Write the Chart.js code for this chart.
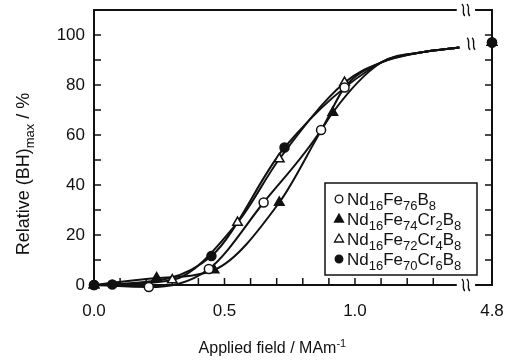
<!DOCTYPE html>
<html>
<head>
<meta charset="utf-8">
<title>Relative (BH)max vs applied field</title>
<script src="https://cdn.jsdelivr.net/npm/chart.js@4/dist/chart.umd.min.js"></script>
<style>
  html, body { margin: 0; padding: 0; background: #fff; }
  #wrap { width: 508px; height: 361px; }
</style>
</head>
<body>
<div id="wrap"><canvas id="chart"></canvas></div>
<script>
// applied field (MA/m) and relative (BH)max (%) for each alloy
const fieldCr0 = [0, 0.21, 0.44, 0.65, 0.87, 0.96, 4.8];
const bhCr0    = [0, -0.8, 6.4, 33, 62, 79, 97];
const fieldCr2 = [0, 0.24, 0.46, 0.71, 0.915, 4.8];
const bhCr2    = [0, 2.8, 6, 33, 69, 97];
const fieldCr4 = [0, 0.30, 0.55, 0.71, 0.96, 4.8];
const bhCr4    = [0, 2, 25, 50.4, 81, 97];
const fieldCr6 = [0, 0.07, 0.45, 0.73, 4.8];
const bhCr6    = [0, 0.2, 11.6, 55, 97];

// above ~1 MA/m the four curves run together up to the axis break
const tailField = [1.1, 1.25, 1.4];
const tailBH    = [89, 93, 95];

const seriesNames = ['Nd16Fe76B8', 'Nd16Fe74Cr2B8', 'Nd16Fe72Cr4B8', 'Nd16Fe70Cr6B8'];

const xTicks = [0, 0.1, 0.2, 0.3, 0.4, 0.5, 0.6, 0.7, 0.8, 0.9, 1.0, 1.1, 1.2, 1.3];
const xLabelled = [0, 0.5, 1.0];

const X_GAP_FROM = 1.39;   // field axis is broken between these two
const X_GAP_TO = 1.46;
const X_FAR = 4.8;         // last field, sits on the right-hand axis
const X_AXIS_END = 1.525;  // axis position used for X_FAR
const INK = '#111';
const TICK = 7;
const FONT = '"Liberation Sans", Arial, sans-serif';

function toAxis(h) {
  return h > X_GAP_TO ? X_AXIS_END - (X_FAR - h) : h;
}

const series = [
  { field: fieldCr0, bh: bhCr0, style: 'circle',   filled: false, order: 1 },
  { field: fieldCr2, bh: bhCr2, style: 'triangle', filled: true,  order: 3 },
  { field: fieldCr4, bh: bhCr4, style: 'triangle', filled: false, order: 2 },
  { field: fieldCr6, bh: bhCr6, style: 'circle',   filled: true,  order: 0 },
];

const datasets = [];
series.forEach((s, i) => {
  const near = s.field.map((h, j) => ({ x: h, y: s.bh[j] })).filter(p => p.x < X_GAP_FROM);
  const curve = near.concat(tailField.map((h, j) => ({ x: h, y: tailBH[j] })));
  datasets.push({
    label: seriesNames[i] + ' curve',
    data: curve,
    showLine: true,
    borderColor: INK,
    borderWidth: 2,
    pointRadius: 0,
    cubicInterpolationMode: 'monotone',
    clip: false,
    order: 4 + i,
  });
  datasets.push({
    label: seriesNames[i],
    data: s.field.map((h, j) => ({ x: toAxis(h), y: s.bh[j] })),
    showLine: false,
    pointStyle: s.style,
    pointRadius: s.style === 'circle' ? 4.5 : 5.5,
    pointBorderWidth: 1.5,
    pointBorderColor: INK,
    pointBackgroundColor: s.filled ? INK : '#fff',
    clip: false,
    order: s.order,
  });
});

function drawMarker(ctx, style, filled, x, y, r) {
  ctx.beginPath();
  if (style === 'circle') {
    ctx.arc(x, y, r, 0, Math.PI * 2);
  } else {
    ctx.moveTo(x, y - r);
    ctx.lineTo(x + r * 0.9, y + r * 0.6);
    ctx.lineTo(x - r * 0.9, y + r * 0.6);
    ctx.closePath();
  }
  ctx.fillStyle = filled ? INK : '#fff';
  ctx.fill();
  ctx.lineWidth = 1.3;
  ctx.strokeStyle = INK;
  ctx.stroke();
}

// text pieces: {t, k} where k is '', 'sub' or 'sup'
function richWidth(ctx, parts, size, ratio = 0.7) {
  let w = 0;
  parts.forEach(p => {
    ctx.font = (p.k ? Math.round(size * ratio) : size) + 'px ' + FONT;
    w += ctx.measureText(p.t).width;
  });
  return w;
}

function drawRich(ctx, parts, x, y, size, ratio = 0.7) {
  ctx.textBaseline = 'alphabetic';
  ctx.textAlign = 'left';
  ctx.fillStyle = INK;
  parts.forEach(p => {
    const s = p.k ? Math.round(size * ratio) : size;
    ctx.font = s + 'px ' + FONT;
    const dy = p.k === 'sub' ? size * 0.3 : p.k === 'sup' ? -size * 0.4 : 0;
    ctx.fillText(p.t, x, y + dy);
    x += ctx.measureText(p.t).width;
  });
}

function formulaParts(name) {
  return name.split(/(\d+)/).filter(t => t).map(t => ({ t, k: /^\d+$/.test(t) ? 'sub' : '' }));
}

function breakMark(ctx, cx, cy) {
  ctx.save();
  ctx.fillStyle = '#fff';
  ctx.fillRect(cx - 6, cy - 3, 12, 6);
  ctx.strokeStyle = INK;
  ctx.lineWidth = 1.3;
  [-2.5, 2.5].forEach(dx => {
    const x0 = cx + dx;
    ctx.beginPath();
    ctx.moveTo(x0 - 1.5, cy - 6);
    ctx.bezierCurveTo(x0 + 2.5, cy - 2.5, x0 - 2.5, cy + 2.5, x0 + 1.5, cy + 6);
    ctx.stroke();
  });
  ctx.restore();
}

const framePlugin = {
  id: 'frame',
  beforeDatasetsDraw(chart) {
    const { ctx, chartArea: a, scales: { x, y } } = chart;
    const gapL = x.getPixelForValue(X_GAP_FROM);
    const gapR = x.getPixelForValue(X_GAP_TO);
    ctx.save();
    ctx.strokeStyle = INK;
    ctx.lineWidth = 2;
    ctx.beginPath();
    ctx.moveTo(gapL, a.top);
    ctx.lineTo(a.left, a.top);
    ctx.lineTo(a.left, a.bottom);
    ctx.lineTo(gapL, a.bottom);
    ctx.moveTo(gapR, a.top);
    ctx.lineTo(a.right, a.top);
    ctx.lineTo(a.right, a.bottom);
    ctx.lineTo(gapR, a.bottom);
    ctx.stroke();

    // inward ticks on both vertical axes and along the field axis
    ctx.lineWidth = 1.5;
    ctx.beginPath();
    y.ticks.forEach(t => {
      if (t.value <= 0 || t.value > 100) return;
      const py = y.getPixelForValue(t.value);
      ctx.moveTo(a.left, py);
      ctx.lineTo(a.left + TICK, py);
      ctx.moveTo(a.right, py);
      ctx.lineTo(a.right - TICK, py);
    });
    x.ticks.forEach(t => {
      if (t.value <= 0 || t.value >= X_GAP_FROM) return;
      const px = x.getPixelForValue(t.value);
      ctx.moveTo(px, a.bottom);
      ctx.lineTo(px, a.bottom - TICK);
    });
    ctx.stroke();
    ctx.restore();

    const mid = (gapL + gapR) / 2;
    breakMark(ctx, mid, a.top);
    breakMark(ctx, mid, a.bottom);
  },
  afterDatasetsDraw(chart) {
    const { ctx, chartArea: a, scales: { x, y } } = chart;
    ctx.save();
    // the curves stop at the break before 4.8 MA/m
    breakMark(ctx, x.getPixelForValue(1.445), y.getPixelForValue(96.5));

    // legend
    const w = 152, h = 92;
    const bx = a.right - 15 - w, by = a.bottom - 10 - h;
    ctx.fillStyle = '#fff';
    ctx.fillRect(bx, by, w, h);
    ctx.strokeStyle = INK;
    ctx.lineWidth = 1.5;
    ctx.strokeRect(bx, by, w, h);
    series.forEach((s, i) => {
      const cy = by + 16 + i * 20;
      drawMarker(ctx, s.style, s.filled, bx + 14, cy, s.style === 'circle' ? 3.8 : 5);
      drawRich(ctx, formulaParts(seriesNames[i]), bx + 22, cy + 6, 17, 0.76);
    });

    // axis titles
    const xt = [{ t: 'Applied field / MAm', k: '' }, { t: '-1', k: 'sup' }];
    const xc = (a.left + x.getPixelForValue(X_GAP_FROM)) / 2;
    drawRich(ctx, xt, xc - richWidth(ctx, xt, 16) / 2 - 3, 353, 16);

    const yt = [{ t: 'Relative (BH)', k: '' }, { t: 'max', k: 'sub' }, { t: ' / %', k: '' }];
    ctx.translate(29, 174);
    ctx.rotate(-Math.PI / 2);
    drawRich(ctx, yt, -richWidth(ctx, yt, 18) / 2, 0, 18);
    ctx.restore();
  },
};

Chart.defaults.font.family = FONT;
Chart.defaults.font.size = 17;
Chart.defaults.color = INK;

new Chart(document.getElementById('chart'), {
  type: 'scatter',
  data: { datasets },
  plugins: [framePlugin],
  options: {
    responsive: true,
    maintainAspectRatio: false,
    animation: false,
    events: [],
    layout: { padding: { top: 10, right: 16, left: 0, bottom: 0 } },
    plugins: { legend: { display: false }, tooltip: { enabled: false } },
    scales: {
      x: {
        type: 'linear',
        min: 0,
        max: X_AXIS_END,
        grid: { display: false, drawTicks: false },
        border: { display: false },
        afterBuildTicks: axis => {
          axis.ticks = xTicks.concat([X_FAR]).map(v => ({ value: toAxis(v) }));
        },
        afterFit: scale => {
          scale.height = 76;
          scale.paddingLeft = 0;
          scale.paddingRight = 0;
        },
        ticks: {
          autoSkip: false,
          maxRotation: 0,
          padding: 16,
          callback: v => {
            if (Math.abs(v - X_AXIS_END) < 1e-6) return X_FAR.toFixed(1);
            return xLabelled.some(l => Math.abs(l - v) < 1e-6) ? v.toFixed(1) : '';
          },
        },
      },
      y: {
        min: 0,
        max: 110,
        grid: { display: false, drawTicks: false },
        border: { display: false },
        afterFit: scale => {
          scale.width = 94;
          scale.paddingTop = 0;
          scale.paddingBottom = 0;
        },
        ticks: {
          stepSize: 10,
          padding: 9,
          callback: v => (v % 20 === 0 && v <= 100 ? v : ''),
        },
      },
    },
  },
});
</script>
</body>
</html>
